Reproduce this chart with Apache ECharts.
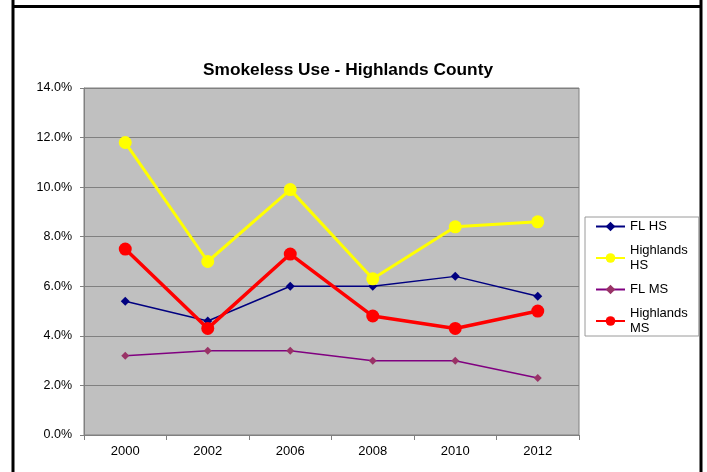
<!DOCTYPE html>
<html>
<head>
<meta charset="utf-8">
<script src="https://cdn.jsdelivr.net/npm/echarts@6/dist/echarts.min.js"></script>
<style>
html,body{margin:0;padding:0;background:#fff;}
#c{width:707px;height:472px;}
</style>
</head>
<body>
<div id="c"></div>
<script>
const years = ['2000','2002','2006','2008','2010','2012'];
const flHS = [5.4, 4.6, 6.0, 6.0, 6.4, 5.6];
const highlandsHS = [11.8, 7.0, 9.9, 6.3, 8.4, 8.6];
const flMS = [3.2, 3.4, 3.4, 3.0, 3.0, 2.3];
const highlandsMS = [7.5, 4.3, 7.3, 4.8, 4.3, 5.0];
const seriesNames = ['FL HS', 'Highlands HS', 'FL MS', 'Highlands MS'];

const chart = echarts.init(document.getElementById('c'), null, {renderer: 'canvas'});
const font = 'Liberation Sans, Arial, sans-serif';
chart.setOption({
  animation: false,
  textStyle: {fontFamily: font},
  title: {
    text: 'Smokeless Use - Highlands County',
    left: 343, textAlign: 'center', top: 57,
    textStyle: {fontFamily: font, fontSize: 17.3, fontWeight: 'bold', color: '#000'}
  },
  graphic: [
    {type: 'line', shape: {x1: 13, y1: 0, x2: 13, y2: 472}, style: {stroke: '#000', lineWidth: 3}},
    {type: 'line', shape: {x1: 701, y1: 0, x2: 701, y2: 472}, style: {stroke: '#000', lineWidth: 3}},
    {type: 'line', shape: {x1: 13, y1: 6.5, x2: 701, y2: 6.5}, style: {stroke: '#000', lineWidth: 3}}
  ],
  grid: {left: 84, right: 128, top: 88, bottom: 37, show: true, backgroundColor: '#C0C0C0', borderColor: '#808080', borderWidth: 1},
  legend: {
    orient: 'vertical', left: 585, top: 217,
    padding: [2, 11, 0, 10], itemGap: 9,
    itemWidth: 29, itemHeight: 12,
    borderColor: '#9a9a9a', borderWidth: 1,
    data: seriesNames,
    formatter: n => n.replace('Highlands ', 'Highlands\n'),
    textStyle: {fontFamily: font, fontSize: 13, color: '#000', lineHeight: 15}
  },
  xAxis: {
    type: 'category', data: years, boundaryGap: true,
    axisLine: {lineStyle: {color: '#808080'}},
    axisTick: {show: true, length: 5, lineStyle: {color: '#808080'}},
    axisLabel: {fontFamily: font, fontSize: 13, color: '#000', margin: 10}
  },
  yAxis: {
    type: 'value', min: 0, max: 14, interval: 2,
    axisLine: {show: true, lineStyle: {color: '#808080'}},
    axisTick: {show: true, length: 4, lineStyle: {color: '#808080'}},
    splitLine: {lineStyle: {color: '#808080', width: 1}},
    axisLabel: {fontFamily: font, fontSize: 12.5, color: '#000', margin: 12, formatter: v => v.toFixed(1) + '%'}
  },
  series: [
    {name: seriesNames[0], type: 'line', data: flHS, symbol: 'diamond', symbolSize: 9,
     lineStyle: {color: '#000080', width: 1.5}, itemStyle: {color: '#000080'}},
    {name: seriesNames[1], type: 'line', data: highlandsHS, symbol: 'circle', symbolSize: 13,
     lineStyle: {color: '#FFFF00', width: 3}, itemStyle: {color: '#FFFF00'}},
    {name: seriesNames[2], type: 'line', data: flMS, symbol: 'diamond', symbolSize: 8,
     lineStyle: {color: '#800080', width: 1.5}, itemStyle: {color: '#993366'}},
    {name: seriesNames[3], type: 'line', data: highlandsMS, symbol: 'circle', symbolSize: 13,
     lineStyle: {color: '#FF0000', width: 3.5}, itemStyle: {color: '#FF0000'}}
  ]
});
</script>
</body>
</html>
